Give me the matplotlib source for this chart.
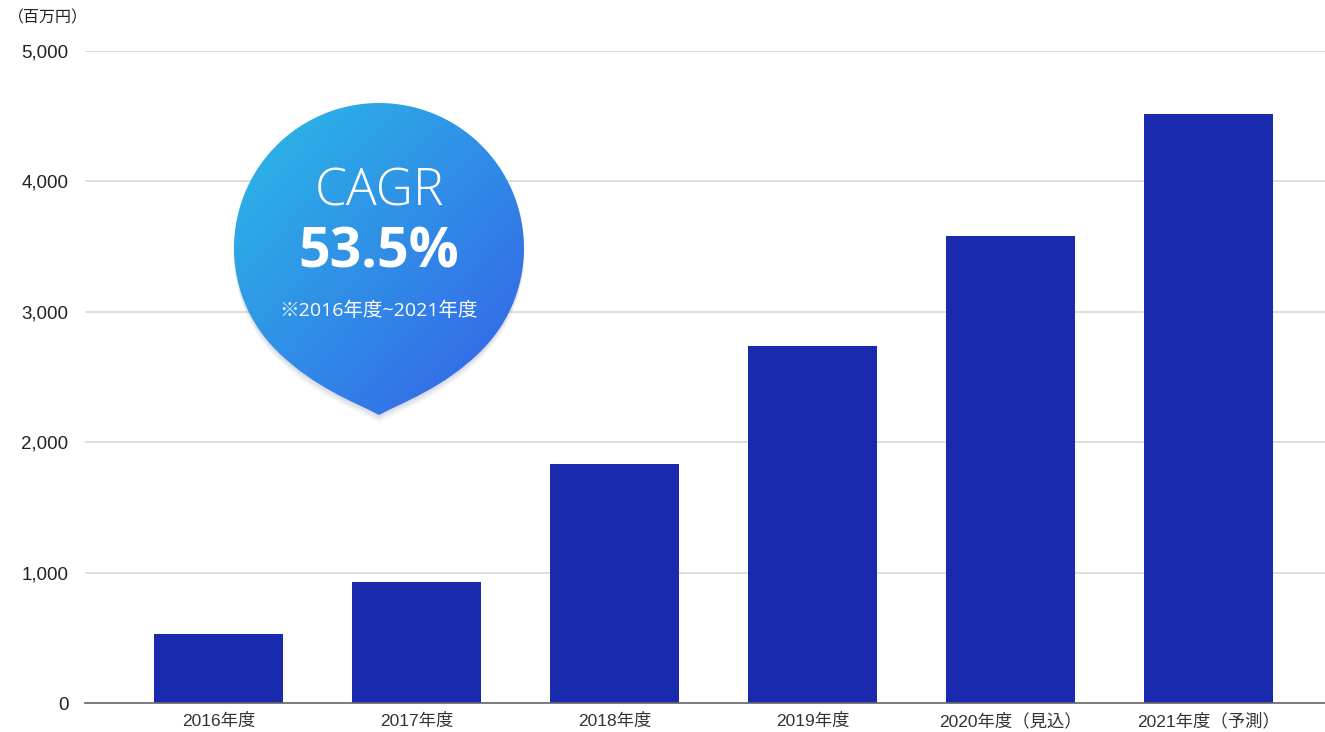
import numpy as np
import matplotlib
matplotlib.use("Agg")
from matplotlib import pyplot as plt
from matplotlib.path import Path
from matplotlib.patches import PathPatch
from matplotlib.ticker import FuncFormatter

# data
years = ["2016年度", "2017年度", "2018年度", "2019年度", "2020年度（見込）", "2021年度（予測）"]
sales = [530, 930, 1830, 2740, 3580, 4520]
y_ticks = [0, 1000, 2000, 3000, 4000, 5000]
unit_label = "（百万円）"
cagr_title = "CAGR"
cagr_value = "53.5%"
cagr_note = "※2016年度~2021年度"

W, H = 1325, 732
bar_color = "#1a2aaf"
jp_fonts = ["Liberation Sans", "Noto Sans CJK JP", "DejaVu Sans"]

fig = plt.figure(figsize=(W / 100, H / 100), dpi=100)
fig.patch.set_facecolor("white")

# main bar chart
ax = fig.add_axes([85 / W, 1 - 703 / H, 1 - 85 / W, (703 - 51) / H])
x = np.arange(len(years))
ax.bar(x, sales, width=0.65, color=bar_color, zorder=3)
ax.set_xlim(-0.674, 5.588)
ax.set_ylim(0, 5000)
ax.set_yticks(y_ticks)
ax.yaxis.set_major_formatter(FuncFormatter(lambda v, p: f"{int(v):,}"))
ax.set_xticks(x)
ax.set_xticklabels(years, family=jp_fonts, fontsize=12.5, color="#333333")
for lab in ax.get_yticklabels():
    lab.set_family(jp_fonts)
    lab.set_fontsize(13.5)
    lab.set_color("#222222")
ax.tick_params(axis="both", length=0)
ax.tick_params(axis="y", pad=12)
ax.tick_params(axis="x", pad=7)
ax.grid(axis="y", color="#d4d4d4", linewidth=1.1, zorder=0)
for s in ["top", "right", "left"]:
    ax.spines[s].set_visible(False)
ax.spines["bottom"].set_color("#666666")
ax.spines["bottom"].set_linewidth(1.2)
ax.spines["bottom"].set_zorder(4)

fig.text(8 / W, 1 - 18 / H, unit_label, family=["Noto Sans CJK JP", "DejaVu Sans"],
         fontsize=11.5, color="#222222", va="center", ha="left")

# overlay axes in pixel coords for the CAGR bubble
ov = fig.add_axes([0, 0, 1, 1])
ov.set_xlim(0, W)
ov.set_ylim(H, 0)
ov.axis("off")

cx, cy, r = 379, 248, 145
tip = (379, 415)
t = np.radians(np.linspace(45, -225, 120))
arc = np.column_stack([cx + r * np.cos(t), cy + r * np.sin(t)])
left = arc[-1]
right = arc[0]
verts = list(map(tuple, arc))
codes = [Path.MOVETO] + [Path.LINETO] * (len(arc) - 1)
verts += [(left[0] + 38, left[1] + 38), (tip[0] - 22, tip[1] - 12), tip]
codes += [Path.CURVE4] * 3
verts += [(tip[0] + 22, tip[1] - 12), (right[0] - 38, right[1] + 38), tuple(right)]
codes += [Path.CURVE4] * 3
verts.append(tuple(right))
codes.append(Path.CLOSEPOLY)
drop = Path(verts, codes)

# soft shadow
for i, a in enumerate([0.035, 0.035, 0.03, 0.03, 0.025]):
    off = 2 + i * 1.5
    sh = Path(drop.vertices + np.array([0, off]), drop.codes)
    ov.add_patch(PathPatch(sh, facecolor="#1a2a6a", edgecolor="none", alpha=a,
                           lw=4 + i * 2))

patch = PathPatch(drop, facecolor="none", edgecolor="none")
ov.add_patch(patch)
gx = np.linspace(0, 1, 200)
gy = np.linspace(0, 1, 200)
GX, GY = np.meshgrid(gx, gy)
g = np.clip((GX + GY) / 2, 0, 1)
c0 = np.array([0x2a, 0xbc, 0xe6]) / 255
c1 = np.array([0x36, 0x5f, 0xe8]) / 255
img = c0[None, None, :] * (1 - g[..., None]) + c1[None, None, :] * g[..., None]
im = ov.imshow(img, extent=(cx - r, cx + r, tip[1], cy - r), origin="upper",
               interpolation="bilinear", zorder=2)
im.set_clip_path(patch)
ov.set_xlim(0, W)
ov.set_ylim(H, 0)

ov.text(cx, 192, cagr_title, family=["Open Sans", "DejaVu Sans"], weight="light",
        fontsize=37, color="white", ha="center", va="center", zorder=5)
ov.text(cx, 253, cagr_value, family=["Open Sans", "DejaVu Sans"], weight="bold",
        fontsize=40, color="white", ha="center", va="center", zorder=5)
ov.text(cx, 311, cagr_note, family=["Open Sans", "Noto Sans CJK JP", "DejaVu Sans"],
        fontsize=14, color="white", ha="center", va="center", zorder=5)

fig.savefig("out.png", dpi=100, facecolor="white")
